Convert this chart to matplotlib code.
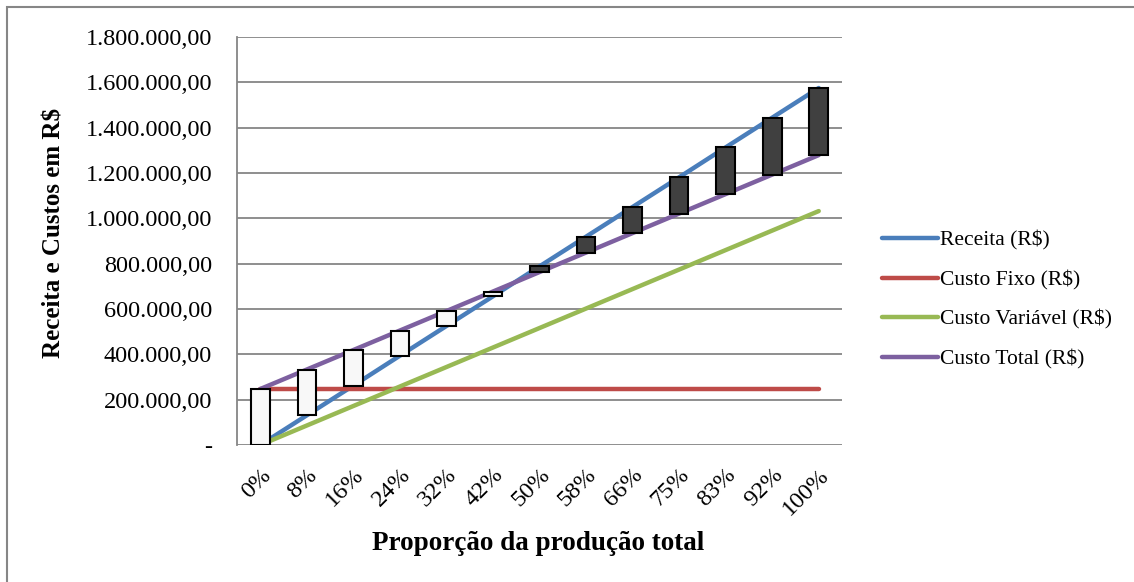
import numpy as np
import matplotlib
matplotlib.use("Agg")
import matplotlib.pyplot as plt
from matplotlib.patches import Rectangle
from matplotlib.ticker import FuncFormatter

plt.rcParams['font.family'] = ['Liberation Serif', 'DejaVu Serif']

categorias = ["0%", "8%", "16%", "24%", "32%", "42%", "50%", "58%", "66%", "75%", "83%", "92%", "100%"]
receita = [0, 131000, 262000, 394000, 525000, 656000, 788000, 919000, 1050000, 1181000, 1313000, 1444000, 1575000]
custo_fixo = [247000] * 13
custo_variavel = [0, 86000, 172000, 258000, 344000, 430000, 516000, 602000, 688000, 774000, 860000, 946000, 1032000]
custo_total = [247000, 333000, 419000, 505000, 591000, 677000, 763000, 849000, 935000, 1021000, 1107000, 1193000, 1279000]


def br_fmt(v, pos):
    if v == 0:
        return "-"
    s = f"{v:,.2f}"
    return s.replace(",", "X").replace(".", ",").replace("X", ".")


fig = plt.figure(figsize=(11.34, 5.82), dpi=100)
ax = fig.add_axes([237 / 1134, 1 - 445 / 582, (842 - 237) / 1134, (445 - 37) / 582])

# outer chart border (runs off right/bottom edge)
fig.patches.append(Rectangle((7 / 1134, -0.05), 1.2, 1 - 7 / 582 + 0.05,
                             transform=fig.transFigure, fill=False,
                             edgecolor="#868686", linewidth=1.5))

x = np.arange(len(categorias))
lw = 3.2
ax.plot(x, receita, color="#4A7EBB", lw=lw, solid_capstyle="round", label="Receita (R$)", zorder=3)
ax.plot(x, custo_fixo, color="#BE4B48", lw=lw, solid_capstyle="round", label="Custo Fixo (R$)", zorder=3)
ax.plot(x, custo_variavel, color="#98B954", lw=lw, solid_capstyle="round", label="Custo Variável (R$)", zorder=3)
ax.plot(x, custo_total, color="#7D60A0", lw=lw, solid_capstyle="round", label="Custo Total (R$)", zorder=3)

# up/down bars between Receita and Custo Total
rec = np.array(receita)
tot = np.array(custo_total)
cores = np.where(rec < tot, "#F8F8F8", "#404040")
ax.bar(x, np.abs(tot - rec), bottom=np.minimum(rec, tot), width=0.4,
       color=cores, edgecolor="black", linewidth=1.5, zorder=4)

ax.set_xlim(-0.5, len(categorias) - 0.5)
ax.set_ylim(0, 1800000)
ax.set_yticks(np.arange(0, 1800001, 200000))
ax.yaxis.set_major_formatter(FuncFormatter(br_fmt))
ax.set_xticks(x)
ax.set_xticklabels(categorias, rotation=45, ha="right", rotation_mode="anchor")
ax.tick_params(axis="both", length=0, labelsize=17.5)
ax.tick_params(axis="x", pad=14)
ax.tick_params(axis="y", pad=18)
ax.grid(axis="y", color="#868686", linewidth=1.3, zorder=0)
ax.set_axisbelow(True)
for s in ["top", "right", "bottom"]:
    ax.spines[s].set_visible(False)
ax.spines["left"].set_color("#868686")
ax.spines["left"].set_linewidth(1.3)

fig.text(54 / 1134, 1 - 233 / 582, "Receita e Custos em R$", rotation=90,
         ha="center", va="center", fontsize=18, fontweight="bold")
fig.text(538 / 1134, 1 - 543 / 582, "Proporção da produção total",
         ha="center", va="center", fontsize=19.5, fontweight="bold")

fig.legend(loc="center left", bbox_to_anchor=(863 / 1134, 1 - 300 / 582),
           frameon=False, fontsize=15.5, handlelength=2.6, handletextpad=0.1,
           labelspacing=0.92)

fig.savefig("out.png", dpi=100)
